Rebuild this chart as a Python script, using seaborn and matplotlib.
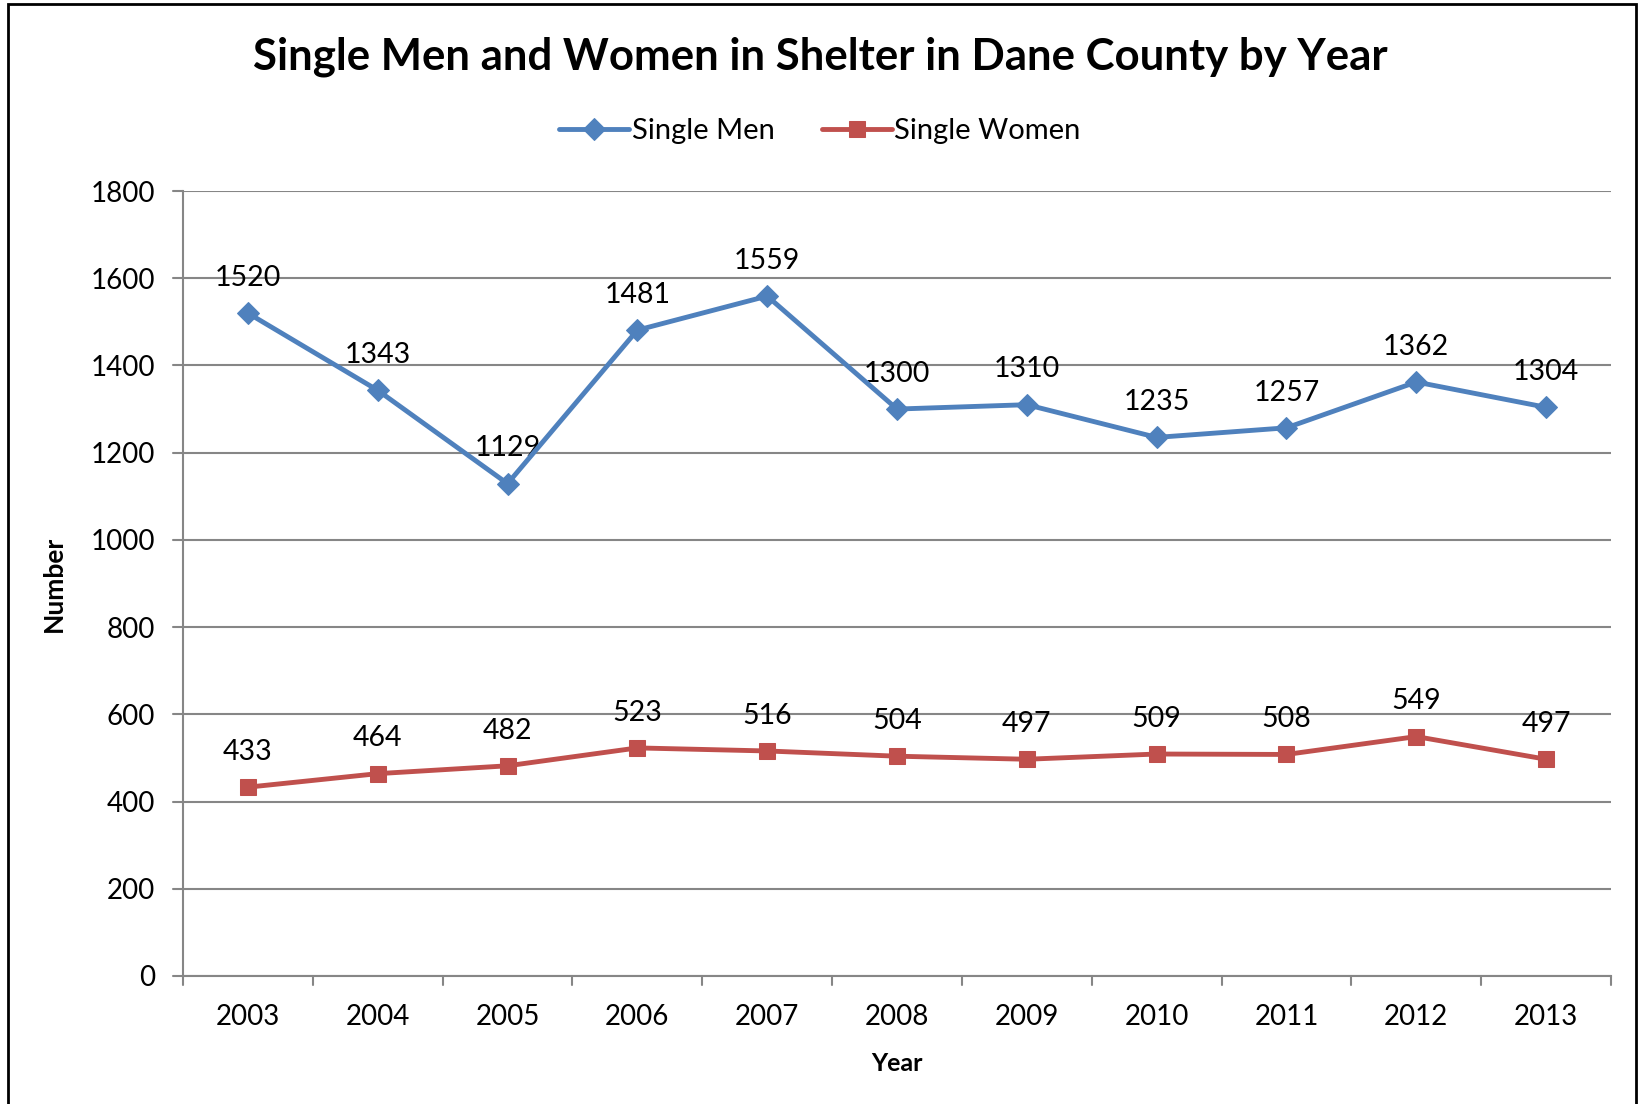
import pandas as pd
import matplotlib.pyplot as plt
import seaborn as sns
from matplotlib.patches import Rectangle

# Chart data
years = ["2003", "2004", "2005", "2006", "2007", "2008", "2009", "2010", "2011", "2012", "2013"]
single_men = [1520, 1343, 1129, 1481, 1559, 1300, 1310, 1235, 1257, 1362, 1304]
single_women = [433, 464, 482, 523, 516, 504, 497, 509, 508, 549, 497]
y_ticks = [0, 200, 400, 600, 800, 1000, 1200, 1400, 1600, 1800]

BLUE = "#4F81BD"
RED = "#C0504D"
GRID = "#868686"

sns.set_style("white")
plt.rcParams['font.family'] = ['Lato', 'DejaVu Sans']

df = pd.DataFrame({"pos": range(len(years)), "men": single_men, "women": single_women})

fig = plt.figure(figsize=(16.4, 11.04), dpi=100)
ax = fig.add_axes([183 / 1640, 1 - 976 / 1104, (1611 - 183) / 1640, (976 - 191) / 1104])

sns.lineplot(data=df, x="pos", y="men", ax=ax, color=BLUE, lw=3.5, marker="D",
             markersize=11, markeredgecolor=BLUE, label="Single Men", zorder=4)
sns.lineplot(data=df, x="pos", y="women", ax=ax, color=RED, lw=3.5, marker="s",
             markersize=12, markeredgecolor=RED, label="Single Women", zorder=4)

# data labels above points
for i, v in enumerate(single_men):
    ax.annotate(str(v), (i, v), xytext=(0, 16), textcoords="offset points",
                ha="center", va="bottom", fontsize=20.5, color="black")
for i, v in enumerate(single_women):
    ax.annotate(str(v), (i, v), xytext=(0, 16), textcoords="offset points",
                ha="center", va="bottom", fontsize=20.5, color="black")

ax.set_xlim(-0.5, len(years) - 0.5)
ax.set_ylim(0, 1800)
ax.set_yticks(y_ticks)
ax.set_yticklabels([str(t) for t in y_ticks], fontsize=20)
ax.set_xticks(range(len(years)))
ax.set_xticklabels(years, fontsize=20)
ax.tick_params(axis="both", length=0, colors="black", labelcolor="black")
ax.tick_params(axis="x", pad=20)
ax.tick_params(axis="y", pad=20)

# category boundary ticks on x axis
for b in range(len(years) + 1):
    ax.plot([b - 0.5, b - 0.5], [0, -0.012], transform=ax.get_xaxis_transform(),
            color=GRID, lw=1.5, clip_on=False)
# y ticks to the left
for t in y_ticks:
    ax.plot([-0.007, 0], [t, t], transform=ax.get_yaxis_transform(),
            color=GRID, lw=1.5, clip_on=False)

ax.grid(axis="y", color=GRID, lw=1.5)
ax.set_axisbelow(True)
for side in ["top", "right"]:
    ax.spines[side].set_visible(False)
for side in ["left", "bottom"]:
    ax.spines[side].set_color(GRID)
    ax.spines[side].set_linewidth(1.5)

ax.set_xlabel("Year", fontsize=18, fontweight="bold", labelpad=16, color="black")
ax.set_ylabel("Number", fontsize=19, fontweight="bold", labelpad=18, color="black")

leg = ax.legend(loc="center", bbox_to_anchor=(0.5, 1 - 131 / 1104), bbox_transform=fig.transFigure,
                ncol=2, frameon=False, fontsize=21, handlelength=2.4, handletextpad=0.1,
                columnspacing=1.6)
for txt in leg.get_texts():
    txt.set_color("black")

fig.text(0.5, 1 - 57 / 1104, "Single Men and Women in Shelter in Dane County by Year",
         ha="center", va="center", fontsize=31.5, fontweight="bold", color="black")

# outer chart frame
fig.patches.append(Rectangle((8 / 1640, -0.01), (1636 - 8) / 1640, 1 - 4 / 1104 + 0.01,
                             transform=fig.transFigure, fill=False, edgecolor="black", lw=2))

fig.savefig("out.png", dpi=100)
